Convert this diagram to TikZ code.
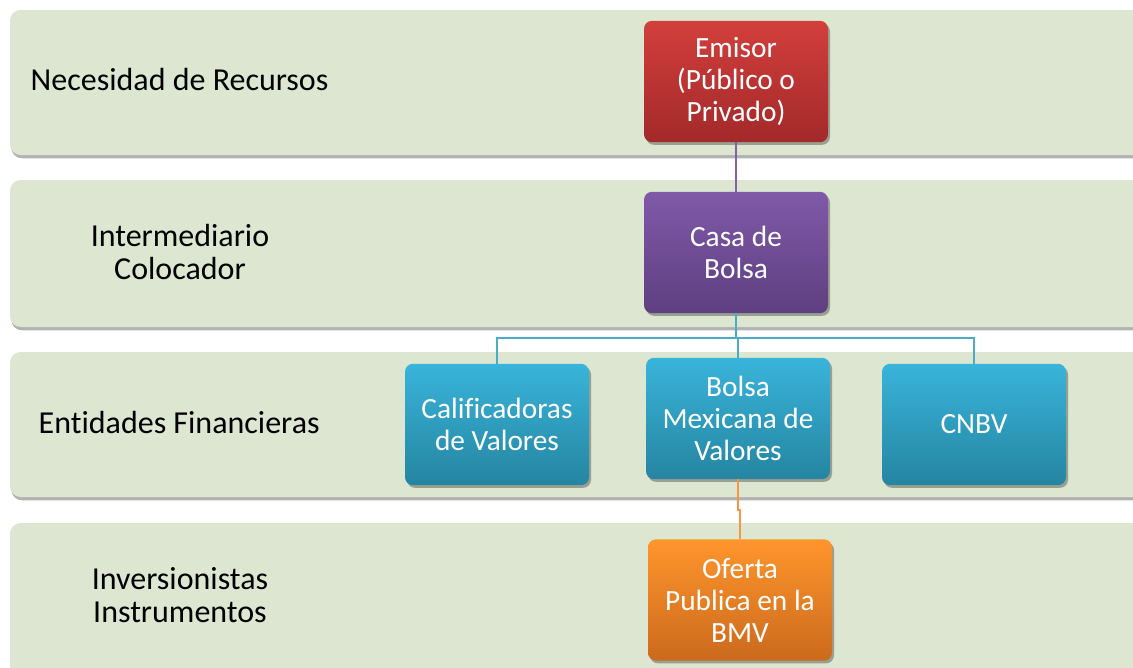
\documentclass[tikz,border=0pt]{standalone}
\usepackage{fontspec}
\setmainfont{Carlito}[Ligatures=NoCommon]
\usetikzlibrary{shadows,positioning}
\definecolor{bandFill}{HTML}{DDE6D1}
\definecolor{emisorTop}{HTML}{D23F3C}
\definecolor{emisorBot}{HTML}{A3292A}
\definecolor{casaTop}{HTML}{8059A8}
\definecolor{casaBot}{HTML}{5E3F80}
\definecolor{entTop}{HTML}{39B4DA}
\definecolor{entBot}{HTML}{2585A1}
\definecolor{ofTop}{HTML}{FF952C}
\definecolor{ofBot}{HTML}{CB6A1D}
\definecolor{lnPurple}{HTML}{8064A2}
\definecolor{lnBlue}{HTML}{4BACC6}
\definecolor{lnOrange}{HTML}{F79646}

\begin{document}
\begin{tikzpicture}[x=0.75pt,y=-0.75pt,
    band/.style={fill=bandFill, rounded corners=8pt,
      drop shadow={shadow xshift=1pt, shadow yshift=-2.5pt, opacity=.3, fill=black}},
    bandlabel/.style={text=black, align=center, font=\fontsize{24}{24.5}\selectfont},
    box/.style={rounded corners=6pt, minimum width=138pt, minimum height=91pt,
      text=white, align=center, inner sep=2pt, font=\fontsize{22}{24}\selectfont,
      drop shadow={shadow xshift=1.5pt, shadow yshift=-2pt, opacity=.3, fill=black}},
    link/.style={line width=1.5pt}]

  \useasboundingbox (0,0) rectangle (1133,668);

  % draw the bands
  \foreach \ytop/\ybot in {10/155, 180/327, 352/497, 523/700}
    \fill[band] (10,\ytop) rectangle (1170,\ybot);

  % band labels
  \node[bandlabel, anchor=west] (necesidad) at (26,80) {Necesidad de Recursos};
  \node[bandlabel] (intermediario) at (180,252) {Intermediario\\Colocador};
  \node[bandlabel, anchor=west] (entidades) at (34,423) {Entidades Financieras};
  \node[bandlabel] (inversionistas) at (180,595) {Inversionistas\\Instrumentos};

  % draw the boxes
  \node[box, top color=emisorTop, bottom color=emisorBot] (emisor) at (736,81.5) {Emisor\\(Público o\\Privado)};
  \node[box, top color=casaTop, bottom color=casaBot] (casa) at (736,252.5) {Casa de\\Bolsa};
  \node[box, top color=entTop, bottom color=entBot] (calif) at (497,424.5) {Calificadoras\\de Valores};
  \node[box, top color=entTop, bottom color=entBot] (bmv) at (738,418.5) {Bolsa\\Mexicana de\\Valores};
  \node[box, top color=entTop, bottom color=entBot] (cnbv) at (974,424.5) {CNBV};
  \node[box, top color=ofTop, bottom color=ofBot] (oferta) at (740,600) {Oferta\\Publica en la\\BMV};

  % connectors
  \draw[link, lnPurple] (emisor.south) -- (casa.north);
  \coordinate (bus) at (736,338);
  \draw[link, lnBlue] (casa.south) -- (bus);
  \draw[link, lnBlue] (calif.north) |- (bus) -| (cnbv.north);
  \draw[link, lnBlue] (bus) -| (bmv.north);
  \coordinate (jog) at (738,510);
  \draw[link, lnOrange] (bmv.south) -- (jog) -| (oferta.north);

\end{tikzpicture}
\end{document}
